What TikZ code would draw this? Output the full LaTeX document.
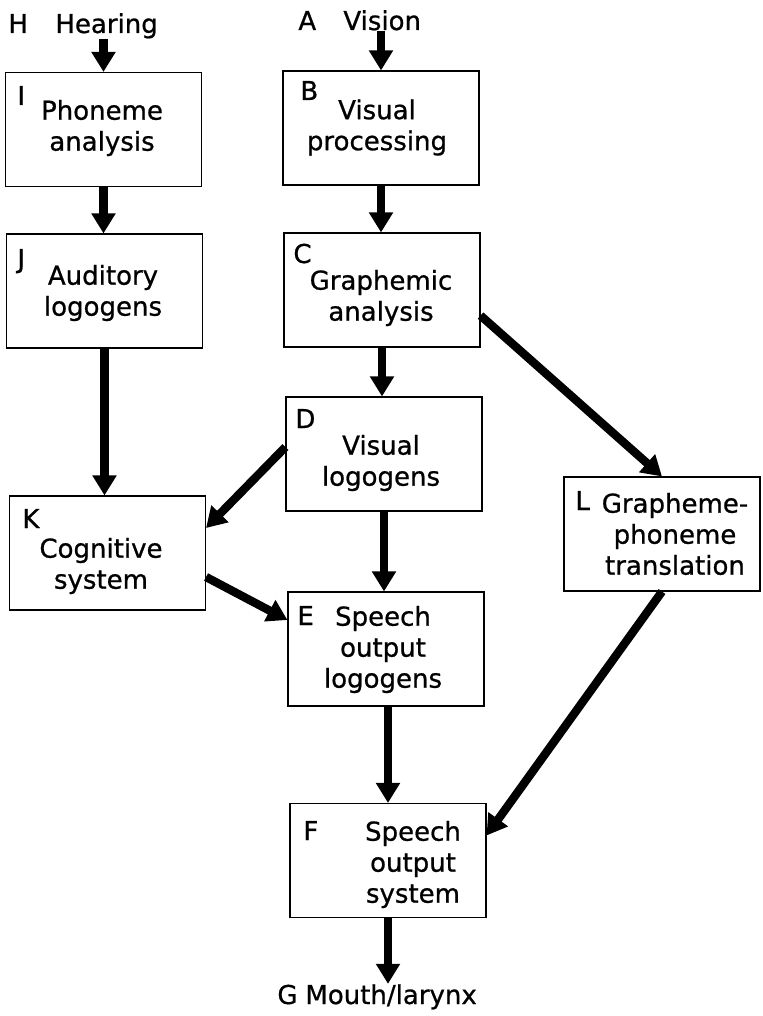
\documentclass[tikz,border=0pt]{standalone}
\usepackage{fontspec}
\setmainfont{DejaVu Sans}[RawFeature={embolden=0.8}]
\usepackage{tikz}
\usetikzlibrary{arrows.meta, calc, positioning}

\tikzset{
  box/.style={draw, line width=0.55pt, minimum width=98pt, minimum height=57pt, inner sep=0pt},
  txt/.style={align=center, inner sep=0pt, font=\fontsize{13}{15.5}\selectfont},
  tag/.style={anchor=base west, inner sep=0pt, font=\fontsize{13}{15.5}\selectfont},
  arr/.style={line width=4.2pt, -{Triangle[length=10pt, width=11.5pt]}}
}

\begin{document}
\begin{tikzpicture}[x=0.5pt, y=-0.5pt]
    \useasboundingbox (0,0) rectangle (762,1016);

    \node[box] (I) at (103.5,129.5) {};
    \node[box] (B) at (381,128) {};
    \node[box] (J) at (104.5,291) {};
    \node[box] (C) at (382,290) {};
    \node[box] (D) at (384,454) {};
    \node[box] (K) at (107.5,553) {};
    \node[box] (L) at (662,534) {};
    \node[box] (E) at (386,649) {};
    \node[box] (F) at (388,860.5) {};

    \node[tag] (H-tag) at (8,33) {H};
    \node[tag] (hearing) at (55,33) {Hearing};
    \node[tag] (A-tag) at (298,30) {A};
    \node[tag] (vision) at (343,30) {Vision};
    \node[tag] (G-tag) at (277,1004) {G};
    \node[tag] (mouth) at (305,1004) {Mouth/larynx};

    \node[tag] (I-tag) at (17,105) {I};
    \node[tag] (B-tag) at (300,100) {B};
    \node[tag] (J-tag) at (17,268) {J};
    \node[tag] (C-tag) at (293,263) {C};
    \node[tag] (D-tag) at (295,428) {D};
    \node[tag] (K-tag) at (22,528) {K};
    \node[tag] (E-tag) at (297,625) {E};
    \node[tag] (L-tag) at (575,510) {L};
    \node[tag] (F-tag) at (303,840) {F};

    \node[txt] (I-txt) at (102,128) {Phoneme\\analysis};
    \node[txt] (B-txt) at (377,127.5) {Visual\\processing};
    \node[txt] (J-txt) at (103,293) {Auditory\\logogens};
    \node[txt] (C-txt) at (381,298) {Graphemic\\analysis};
    \node[txt] (D-txt) at (381,463) {Visual\\logogens};
    \node[txt] (K-txt) at (101,566) {Cognitive\\system};
    \node[txt] (E-txt) at (383,649.5) {Speech\\output\\logogens};
    \node[txt] (L-txt) at (675,534) {Grapheme-\\phoneme\\translation};
    \node[txt] (F-txt) at (413,864.5) {Speech\\output\\system};

    \draw[arr] (hearing.south -| I.north) -- (I.north);
    \draw[arr] (vision.south -| B.north) -- (B.north);
    \draw[arr] (I.south) -- (I.south |- J.north);
    \draw[arr] (B.south) -- (B.south |- C.north);
    \draw[arr] (J.south) -- (J.south |- K.north);
    \draw[arr] (C.south) -- (C.south |- D.north);
    \draw[arr] ($(C.south east)+(0,-32)$) -- (L.north);
    \draw[arr] ($(D.west)+(0,-7)$) -- ($(K.east)+(0,-25)$);
    \draw[arr] (D.south) -- (D.south |- E.north);
    \draw[arr] ($(K.east)+(0,24)$) -- ($(E.west)+(0,-29)$);
    \draw[arr] (F.north |- E.south) -- (F.north);
    \draw[arr] (L.south) -- ($(F.east)+(0,-25)$);
    \draw[arr] (F.south) -- (F.south |- mouth.north);
\end{tikzpicture}
\end{document}
